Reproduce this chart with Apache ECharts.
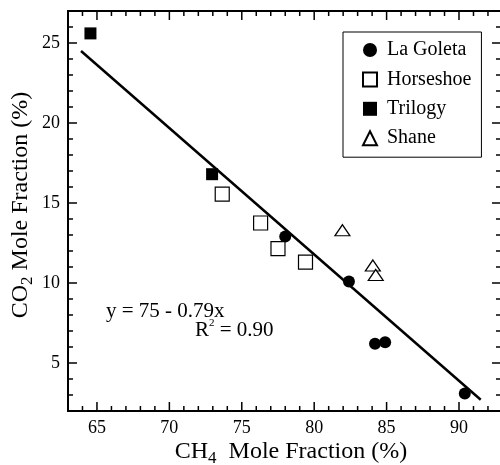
<!DOCTYPE html>
<html>
<head>
<meta charset="utf-8">
<script src="https://cdn.jsdelivr.net/npm/echarts@6/dist/echarts.min.js"></script>
<style>
  html, body { margin: 0; padding: 0; background: #fff; }
  #chart { width: 500px; height: 465px; }
</style>
</head>
<body>
<div id="chart"></div>
<script>
// values
const laGoletaX = [78.0, 82.4, 84.2, 84.9, 90.4]
const laGoletaY = [12.9, 10.1, 6.2, 6.3, 3.1]
const horseshoeX = [73.65, 76.3, 77.5, 79.4]
const horseshoeY = [15.55, 13.75, 12.15, 11.3]
const trilogyX = [64.55, 72.95]
const trilogyY = [25.6, 16.8]
const shaneX = [81.95, 84.05, 84.25]
const shaneY = [13.3, 11.1, 10.5]

// regression line y = 75 - 0.79x, end points
const fitX = [63.9, 91.5]
const fitY = [24.5, 2.7]

// frame is cut off on the right in the reference
const xRange = [63, 92.9]
const yRange = [2, 27]
const xMajorTicks = [65, 70, 75, 80, 85, 90]
const yMajorTicks = [5, 10, 15, 20, 25]

const font = 'Liberation Serif'
const MAJOR_LEN = 9
const MINOR_LEN = 5

const pairs = (xs, ys) => xs.map((x, i) => [x, ys[i]])

// frame ticks: [value, 0 = x / 1 = y, length], mirrored on both sides
const tickData = []
for (let v = Math.ceil(xRange[0]); v <= xRange[1]; v++) {
  tickData.push([v, 0, xMajorTicks.includes(v) ? MAJOR_LEN : MINOR_LEN])
}
for (let v = Math.ceil(yRange[0]); v <= yRange[1]; v++) {
  tickData.push([v, 1, yMajorTicks.includes(v) ? MAJOR_LEN : MINOR_LEN])
}

const tickStyle = { stroke: '#000', lineWidth: 1.5 }

const renderTick = (params, api) => {
  const v = api.value(0)
  const len = api.value(2)
  if (api.value(1) === 0) {
    const a = api.coord([v, yRange[0]])
    const b = api.coord([v, yRange[1]])
    return {
      type: 'group',
      children: [
        { type: 'line', shape: { x1: a[0], y1: a[1], x2: a[0], y2: a[1] - len }, style: tickStyle },
        { type: 'line', shape: { x1: b[0], y1: b[1], x2: b[0], y2: b[1] + len }, style: tickStyle },
      ],
    }
  }
  const a = api.coord([xRange[0], v])
  const b = api.coord([xRange[1], v])
  return {
    type: 'group',
    children: [
      { type: 'line', shape: { x1: a[0], y1: a[1], x2: a[0] + len, y2: a[1] }, style: tickStyle },
      { type: 'line', shape: { x1: b[0], y1: b[1], x2: b[0] - len, y2: b[1] }, style: tickStyle },
    ],
  }
}

// the frame comes from the grid border, axes only carry the labels
const makeAxis = (range, labels) => ({
  type: 'value',
  min: range[0],
  max: range[1],
  splitNumber: 5,
  splitLine: { show: false },
  axisLine: { show: false },
  axisTick: { show: false },
  axisLabel: {
    show: true,
    showMinLabel: false,
    showMaxLabel: false,
    formatter: (v) => (labels.includes(v) ? String(v) : ''),
    margin: 8,
    color: '#000',
    fontFamily: font,
    fontSize: 18,
  },
})

const chart = echarts.init(document.getElementById('chart'))

const option = {
  animation: false,
  grid: {
    left: 68,
    right: -1,
    top: 11,
    bottom: 54,
    outerBoundsMode: 'none',
    show: true,
    borderColor: '#000',
    borderWidth: 2,
    backgroundColor: 'transparent',
  },
  xAxis: makeAxis(xRange, xMajorTicks),
  yAxis: makeAxis(yRange, yMajorTicks),
  legend: {
    orient: 'vertical',
    left: 343,
    top: 32,
    padding: [8, 10, 9, 19],
    itemGap: 9.4,
    itemWidth: 14,
    itemHeight: 14,
    borderColor: '#000',
    borderWidth: 1,
    textStyle: { color: '#000', fontFamily: font, fontSize: 20, padding: [0, 0, 0, 5] },
    data: ['La Goleta', 'Horseshoe', 'Trilogy', 'Shane'],
  },
  series: [
    {
      type: 'custom',
      data: tickData,
      renderItem: renderTick,
      silent: true,
      z: 1,
    },
    {
      type: 'line',
      data: pairs(fitX, fitY),
      showSymbol: false,
      lineStyle: { color: '#000', width: 2.5 },
      z: 1,
    },
    {
      name: 'La Goleta',
      type: 'scatter',
      data: pairs(laGoletaX, laGoletaY),
      symbol: 'circle',
      symbolSize: 12,
      itemStyle: { color: '#000', opacity: 1 },
      z: 3,
    },
    {
      name: 'Horseshoe',
      type: 'scatter',
      data: pairs(horseshoeX, horseshoeY),
      symbol: 'rect',
      symbolSize: 14,
      itemStyle: { color: '#fff', borderColor: '#000', borderWidth: 1.2, opacity: 1 },
      z: 3,
    },
    {
      name: 'Trilogy',
      type: 'scatter',
      data: pairs(trilogyX, trilogyY),
      symbol: 'rect',
      symbolSize: 12,
      itemStyle: { color: '#000', opacity: 1 },
      z: 3,
    },
    {
      name: 'Shane',
      type: 'scatter',
      data: pairs(shaneX, shaneY),
      symbol: 'triangle',
      symbolSize: [15, 11],
      itemStyle: { color: '#fff', borderColor: '#000', borderWidth: 1.2, opacity: 1 },
      z: 3,
    },
  ],
  graphic: [
    {
      type: 'text',
      x: 291,
      y: 452,
      style: {
        text: '{a|CH}{s|4}{a|  Mole Fraction (%)}',
        align: 'center',
        verticalAlign: 'middle',
        rich: {
          a: { fontFamily: font, fontSize: 24, lineHeight: 30, fill: '#000' },
          s: { fontFamily: font, fontSize: 17, lineHeight: 17, verticalAlign: 'bottom', fill: '#000' },
        },
      },
    },
    {
      type: 'text',
      x: 21,
      y: 205,
      rotation: Math.PI / 2,
      style: {
        text: '{a|CO}{s|2}{a| Mole Fraction (%)}',
        align: 'center',
        verticalAlign: 'middle',
        rich: {
          a: { fontFamily: font, fontSize: 24, lineHeight: 30, fill: '#000' },
          s: { fontFamily: font, fontSize: 17, lineHeight: 17, verticalAlign: 'bottom', fill: '#000' },
        },
      },
    },
    {
      type: 'text',
      x: 106,
      y: 311,
      style: {
        text: 'y = 75 - 0.79x',
        fontFamily: font,
        fontSize: 21,
        fill: '#000',
        verticalAlign: 'middle',
      },
    },
    {
      type: 'text',
      x: 195,
      y: 330,
      style: {
        text: '{a|R}{p|2}{a| = 0.90}',
        verticalAlign: 'middle',
        rich: {
          a: { fontFamily: font, fontSize: 21, lineHeight: 24, fill: '#000' },
          p: { fontFamily: font, fontSize: 11, lineHeight: 11, verticalAlign: 'top', fill: '#000' },
        },
      },
    },
  ],
}

chart.setOption(option)
</script>
</body>
</html>
